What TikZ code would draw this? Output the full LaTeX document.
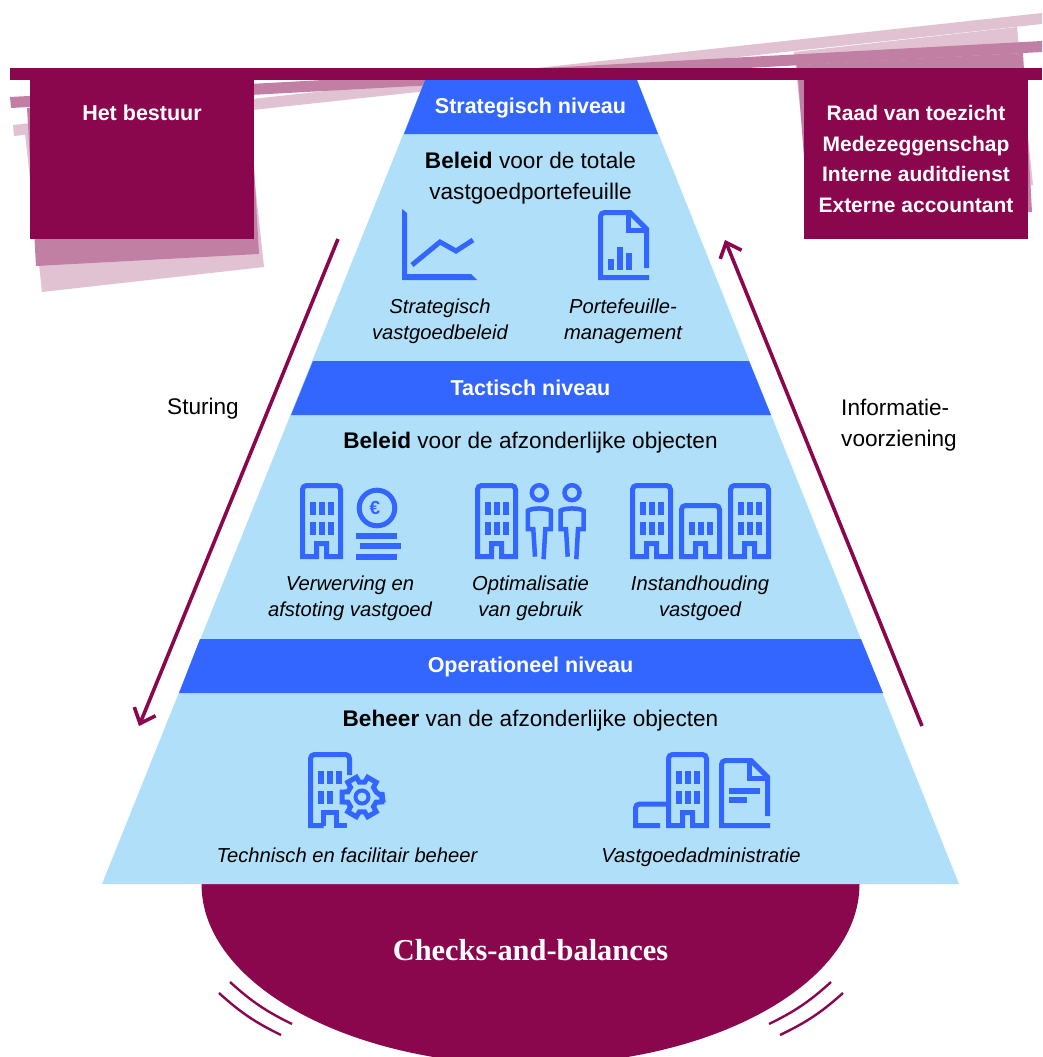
\documentclass[tikz,border=0pt]{standalone}
\usepackage{fontspec}
\setmainfont{Liberation Sans}
\newfontfamily\kopfont{Liberation Serif}
\usetikzlibrary{arrows.meta}
\definecolor{bordeaux}{HTML}{8A074E}
\definecolor{bordeauxmid}{HTML}{C27FA4}
\definecolor{bordeauxlicht}{HTML}{E1C2D3}
\definecolor{donkerblauw}{HTML}{3366FF}
\definecolor{lichtblauw}{HTML}{B0DFF9}
\tikzset{
  kop/.style={font=\fontsize{21.5}{26}\selectfont\bfseries, text=white},
  tekst/.style={font=\fontsize{22.6}{30.7}\selectfont, align=center},
  cursief/.style={font=\fontsize{20.2}{26}\selectfont\itshape, align=center},
  lijn/.style={draw=donkerblauw, line width=5pt},
  blok/.style={fill=donkerblauw},
  pijl/.style={draw=bordeaux, line width=3.6pt, -{Straight Barb[length=13pt,width=23pt]}},
  boog/.style={draw=bordeaux, line width=2.4pt},
  ramen/.pic={
    \foreach \rx in {10,19,28}
      \fill[blok] (\rx,0) rectangle ++(6,13);
  },
  gebouw/.pic={
    \draw[lijn] (16.5,73.5) -- (2.5,73.5) [rounded corners=4pt] -- (2.5,2.5) -- (40.5,2.5) [sharp corners] -- (40.5,73.5) -- (26.5,73.5) -- (26.5,60.5) -- (16.5,60.5) -- cycle;
    \pic at (0,19) {ramen};
    \pic at (0,39) {ramen};
  },
  laag gebouw/.pic={
    \draw[lijn] (16.5,53.5) -- (2.5,53.5) [rounded corners=4pt] -- (2.5,2.5) -- (40.5,2.5) [sharp corners] -- (40.5,53.5) -- (26.5,53.5) -- (26.5,40.5) -- (16.5,40.5) -- cycle;
    \pic at (0,19) {ramen};
  },
  document/.pic={
    \draw[lijn] (51,67.5) -- (2.5,67.5) [rounded corners=4pt] -- (2.5,2.5) [sharp corners] -- (32,2.5) -- (48.5,19) -- (48.5,58);
    \draw[lijn] (30.5,2.5) -- (30.5,20) -- (48.5,20);
  },
  persoon/.pic={
    \draw[lijn, line width=4.5pt] (0,0) circle (7.5);
    \draw[lijn, line width=4.5pt] (-4.3,64) -- (-6,36.5) -- (-11.5,36.5) -- (-11.5,18) .. controls (-7,15) and (7,15) .. (11.5,18) -- (11.5,36.5) -- (6,36.5) -- (4.3,66.5);
  }
}
\begin{document}
\begin{tikzpicture}[x=1pt,y=-1pt]
  \path[use as bounding box, clip] (0,0) rectangle (1042,1057);

  % lichte lagen
  \fill[bordeauxlicht] (13,125) -- (1042,13) -- (1042,24) -- (14,136) -- cycle;
  \fill[bordeauxlicht] (25,133) -- (247,108) -- (264,267) -- (42,292) -- cycle;
  \fill[bordeauxlicht] (794,52) -- (1017,27) -- (1033,185) -- (811,209) -- cycle;
  % middelste lagen
  \fill[bordeauxmid] (10,97) -- (1042,41) -- (1042,52) -- (11,108) -- cycle;
  \fill[bordeauxmid] (27,108) -- (250,96) -- (259,254) -- (36,266) -- cycle;
  \fill[bordeauxmid] (797,65) -- (1023,53) -- (1032,212) -- (809,224) -- cycle;
  % balk en vlakken
  \fill[bordeaux] (10,68) rectangle (1042,80);
  \node[fill=bordeaux, minimum width=224pt, minimum height=159pt, inner sep=0pt] (bestuur) at (142,159.5) {};
  \node[fill=bordeaux, minimum width=224pt, minimum height=159pt, inner sep=0pt] (toezicht) at (916,159.5) {};
  \node[kop] (bestuurtekst) at (142,113) {Het bestuur};
  \node[kop, align=center, font=\fontsize{21}{30.5}\selectfont\bfseries] (toezichttekst) at (916,159) {Raad van toezicht\\Medezeggenschap\\Interne auditdienst\\Externe accountant};

  % halve ellips
  \fill[bordeaux] (530.5,884) ellipse [x radius=329pt, y radius=181pt];
  \node[font=\fontsize{30.4}{32}\selectfont\bfseries\kopfont, text=white] (checks) at (530.5,950) {Checks-and-balances};
  \coordinate (bla) at (230,982);
  \coordinate (blb) at (292,1024);
  \coordinate (bua) at (219,993);
  \coordinate (bub) at (281,1035);
  \coordinate (bra) at (831,982);
  \coordinate (brb) at (769,1024);
  \coordinate (bsa) at (843,993);
  \coordinate (bsb) at (780,1035);
  \draw[boog] (bla) to[bend right=8] (blb);
  \draw[boog] (bua) to[bend right=8] (bub);
  \draw[boog] (bra) to[bend left=8] (brb);
  \draw[boog] (bsa) to[bend left=8] (bsb);

  % piramide
  \fill[lichtblauw] (425,80) -- (637,80) -- (959,884) -- (102,884) -- cycle;
  \fill[donkerblauw] (425,80) -- (637,80) -- (658,134) -- (404,134) -- cycle;
  \fill[donkerblauw] (313,361) -- (749,361) -- (771,415) -- (291,415) -- cycle;
  \fill[donkerblauw] (200,639) -- (861,639) -- (883,693) -- (179,693) -- cycle;
  \node[kop] (strategisch) at (530.5,108) {Strategisch niveau};
  \node[kop] (tactisch) at (530.5,388) {Tactisch niveau};
  \node[kop] (operationeel) at (530.5,667) {Operationeel niveau};

  \node[tekst] (beleidtotaal) at (530.5,178.5) {\textbf{Beleid} voor de totale\\vastgoedportefeuille};
  \node[tekst] (beleidobject) at (530.5,443) {\textbf{Beleid} voor de afzonderlijke objecten};
  \node[tekst] (beheer) at (530.5,721) {\textbf{Beheer} van de afzonderlijke objecten};

  \node[cursief] (stratbeleid) at (440,321) {Strategisch\\vastgoedbeleid};
  \node[cursief] (portefeuille) at (623,321) {Portefeuille-\\management};
  \node[cursief] (verwerving) at (350,598) {Verwerving en\\afstoting vastgoed};
  \node[cursief] (gebruik) at (530.5,598) {Optimalisatie\\van gebruik};
  \node[cursief] (instand) at (700,598) {Instandhouding\\vastgoed};
  \node[cursief] (technisch) at (347,855) {Technisch en facilitair beheer};
  \node[cursief] (administratie) at (701,857) {Vastgoedadministratie};

  % grafiek
  \fill[blok] (402,209) -- (407,213) -- (407,274) -- (471,274) -- (477,280) -- (402,280) -- cycle;
  \draw[lijn] (412,265) -- (440,242) -- (456,251) -- (473,240);
  % rapport
  \pic at (598,210) {document};
  \fill[blok] (608,259) rectangle (614,270);
  \fill[blok] (617,247) rectangle (623,270);
  \fill[blok] (626,253) rectangle (632,270);

  % verwerving
  \pic at (300,483) {gebouw};
  \draw[lijn] (377,508) circle (17.8);
  \node[text=donkerblauw, font=\fontsize{19}{20}\selectfont\bfseries] (euro) at (375,508) {€};
  \fill[blok] (356,533) rectangle (397,539);
  \fill[blok] (360,543) rectangle (401,549);
  \fill[blok] (356,554) rectangle (397,560);
  % gebruik
  \pic at (475,483) {gebouw};
  \pic at (539.3,492.7) {persoon};
  \pic at (572,492.7) {persoon};
  % instandhouding
  \pic at (630,483) {gebouw};
  \pic at (679,503) {laag gebouw};
  \pic at (728,483) {gebouw};

  % technisch beheer
  \draw[lijn] (323.5,825.5) -- (310.5,825.5) [rounded corners=4pt] -- (310.5,754.5) -- (349.5,754.5) [sharp corners] -- (349.5,775);
  \draw[lijn] (347,825.5) -- (336.5,825.5) -- (336.5,812.5) -- (323.5,812.5) -- (323.5,825.5);
  \fill[blok] (318,771) rectangle ++(6,13);
  \fill[blok] (327,771) rectangle ++(6,13);
  \fill[blok] (336,771) rectangle ++(6,13);
  \fill[blok] (318,791) rectangle ++(6,13);
  \fill[blok] (327,791) rectangle ++(6,13);
  \draw[lijn, fill=lichtblauw] (362,797) +(0:20.5) \foreach \a in {0,60,...,300} { -- +(\a-14:20.5) -- +(\a+14:20.5) -- +(\a+20:15) -- +(\a+40:15)} -- cycle;
  \draw[lijn, line width=4pt] (362,797) circle (6.5);

  % administratie
  \pic at (666,752) {gebouw};
  \draw[lijn] (666,804) [rounded corners=4pt] -- (635.5,804) [sharp corners] -- (635.5,825.5) -- (660,825.5);
  \pic at (719,758) {document};
  \fill[blok] (729,788) rectangle (760,794);
  \fill[blok] (729,797) rectangle (747,803);

  % pijlen
  \coordinate (sturingvan) at (338,239);
  \coordinate (sturingnaar) at (139,726);
  \coordinate (infovan) at (922,726);
  \coordinate (infonaar) at (725,240);
  \draw[pijl] (sturingvan) -- (sturingnaar);
  \draw[pijl] (infovan) -- (infonaar);
  \node[tekst] (sturing) at (203,409) {Sturing};
  \node[tekst, align=left] (info) at (899,425.5) {Informatie-\\voorziening};
\end{tikzpicture}
\end{document}
